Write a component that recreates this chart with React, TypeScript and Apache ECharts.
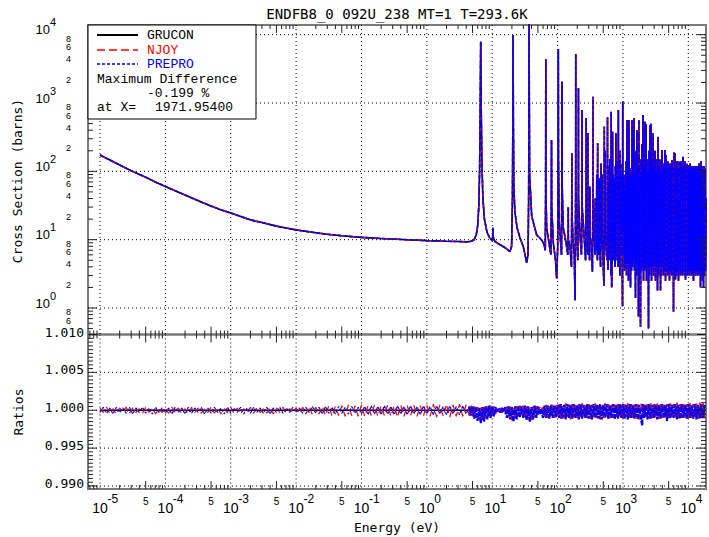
import React, { useEffect, useRef } from "react";
import * as echarts from "echarts";

// ---------- axis extents ----------
const X_MIN = 6.552e-6;
const X_MAX = 18640;
const XS_MIN = 0.4096;
const XS_MAX = 13860;
const R_MIN = 0.9896;
const R_MAX = 1.01;

// ---------- tick values ----------
const xDecades = [1e-5, 1e-4, 1e-3, 1e-2, 1e-1, 1, 10, 100, 1000, 10000];
const xFiveLabels = [5e-5, 5e-4, 5e-3, 5e-2, 5e-1, 5, 50, 500, 5000];
const yDecades = [1, 10, 100, 1000, 10000];
const ratioGridValues = [0.99, 0.995, 1.0, 1.005];
const ratioLabelValues = [0.99, 0.995, 1.0, 1.005, 1.01];
const minorMultipliers = [2, 3, 4, 5, 6, 7, 8, 9];
const labelledMultipliers = [2, 4, 6, 8];

// ---------- texts ----------
const titleText = "ENDFB8_0 092U_238 MT=1 T=293.6K";
const seriesNames = ["GRUCON", "NJOY", "PREPRO"];
const maxDiffLabel = "Maximum Difference";
const maxDiffValue = "-0.199 %";
const maxDiffAtLabel = "at X=";
const maxDiffAtValue = "1971.95400";

// ---------- cross section (eV, barns) ----------
const xsThermal = [
  [1e-5, 173], [2e-5, 124], [3e-5, 102], [5e-5, 82], [7e-5, 70], [1e-4, 60], [2e-4, 45], [3e-4, 38],
  [5e-4, 31], [7e-4, 27.5], [1e-3, 24.5], [2e-3, 19.5], [3e-3, 17.8], [5e-3, 15.8], [7e-3, 14.8],
  [1e-2, 13.9], [2e-2, 12.6], [3e-2, 12], [5e-2, 11.4], [0.1, 10.8], [0.2, 10.4], [0.5, 10], [1, 9.7],
  [2, 9.5], [3, 9.4], [4.2, 9.3],
];
const xsLowResonances = [
  [4.8, 9.5], [5.3, 10], [5.7, 11.8], [6.0, 16], [6.25, 32], [6.42, 110], [6.55, 700], [6.62, 3000],
  [6.67, 7900], [6.72, 3000], [6.8, 700], [6.95, 140], [7.2, 40], [7.6, 20], [8.3, 13], [9.2, 10.5],
  [10.0, 9.8], [10.17, 11], [10.24, 15], [10.31, 11], [11, 9.4], [13, 8.5], [15.5, 7.7], [18.7, 6.7],
  [19.8, 8], [20.4, 40], [20.7, 600], [20.87, 9900], [21.05, 600], [21.4, 60], [22.3, 25], [24, 15],
  [26.6, 10.6], [30, 7.8], [33.7, 4.6], [35.3, 6], [36.1, 40], [36.5, 1500], [36.68, 20000], [36.9, 1500],
  [37.3, 90], [40.2, 22], [47.9, 11.7], [57.1, 9.9], [62, 8.6], [64.8, 7], [65.7, 50], [66.03, 4360],
  [66.4, 50], [68, 15], [74, 9], [79, 6], [80.3, 40], [80.75, 287], [81.3, 30], [86, 9], [93, 5],
  [96.8, 2.7], [100.5, 8], [102, 200], [102.56, 6170], [103.2, 150], [106, 18], [111, 9.5], [115, 6],
  [116.3, 100], [116.9, 2050], [117.6, 60], [122, 15], [135, 9], [143, 6], [145.3, 12], [145.66, 30],
  [146.2, 10],
];
const xsResolved = [
  [155, 8], [163, 4], [164.7, 30], [165.3, 184], [166, 25], [172, 10], [180, 6], [185, 1.3], [189, 50],
  [189.67, 5200], [190.4, 60], [196, 14], [204, 5], [207.8, 60], [208.5, 1640], [209.2, 40], [220, 12],
  [232, 6], [236.8, 40], [237.4, 790], [238.1, 30], [255, 11], [268, 5], [273.1, 40], [273.7, 597],
  [274.4, 30], [284, 9], [289, 6], [290.5, 30], [291, 365], [291.6, 25], [302, 10], [309, 5], [311.3, 60],
  [313, 11], [330, 9], [341, 3.4], [347.2, 50], [347.8, 1240], [348.5, 40], [362, 12], [373, 6],
  [376.9, 40], [380, 12], [392, 7], [397.6, 90], [402, 10], [407, 5], [410.2, 257], [412, 12], [428, 6],
  [434, 80], [438, 10], [455, 4], [463, 130], [466, 12], [474, 7], [478.5, 90], [482, 12], [505, 3],
  [513, 2.1], [518.4, 450], [521, 15], [530, 8], [535.5, 200], [538, 12], [560, 6], [572, 5],
  [580.2, 620], [583, 15], [591, 3.6], [595, 60], [599, 10], [614, 5], [619.9, 120], [622, 14], [626, 9],
  [628.5, 150], [632, 12], [650, 6], [657, 3], [661.2, 745], [664, 20], [672, 2], [685, 5], [693.2, 380],
  [697, 14], [705, 7], [708.4, 90], [712, 10], [719, 5], [721.6, 80], [726, 12], [730.2, 60], [740, 8],
  [758, 4], [765.2, 120], [770, 15], [776, 6], [780.6, 360], [785, 14], [810, 5], [821.6, 140], [830, 10],
  [845, 4], [851, 790], [854, 20], [858, 150], [862, 12], [866.4, 100], [880, 6], [900, 3], [905, 200],
  [910, 14], [920, 6], [925.2, 130], [930, 12], [937, 100], [945, 8], [958.8, 90], [965, 10], [985, 1.05],
  [992.3, 1040], [996, 15], [1015, 6],
];
const xsUnresolvedLike = [
  [1037, 90], [1056, 3.5], [1075, 60], [1094, 4], [1114, 140], [1134, 3], [1154, 565], [1175, 4.5],
  [1195, 150], [1216, 2.5], [1238, 565], [1260, 4], [1282, 110], [1305, 2], [1328, 80], [1352, 3.5],
  [1376, 565], [1400, 4], [1425, 400], [1450, 5], [1476, 600], [1502, 3.5], [1529, 90], [1556, 1.4],
  [1584, 200], [1612, 3], [1641, 400], [1670, 4], [1700, 120], [1730, 0.75], [1761, 565], [1792, 3],
  [1823, 100], [1856, 0.53], [1889, 150], [1923, 3.5], [1956, 250], [1991, 4], [2026, 670], [2062, 2.5],
  [2099, 120], [2137, 3.5], [2174, 530], [2213, 4], [2252, 495], [2292, 2.5], [2333, 150], [2375, 4],
  [2417, 100], [2460, 0.5], [2503, 200], [2548, 3], [2593, 477], [2640, 4], [2686, 500], [2734, 2.5],
  [2782, 150], [2832, 4], [2882, 360], [2934, 3], [2985, 120], [3039, 4], [3092, 200], [3147, 2.5],
  [3203, 100], [3261, 4], [3318, 150], [3378, 1.8], [3437, 320], [3499, 3], [3560, 120], [3624, 4],
  [3687, 150], [3754, 1.8], [3820, 100], [3889, 3], [3957, 205], [4028, 4], [4099, 110], [4173, 3],
  [4246, 130], [4322, 3.5], [4397, 205], [4476, 2.5], [4555, 174], [4637, 3.5], [4718, 130], [4803, 3],
  [4888, 140], [4976, 3.5], [5063, 110], [5154, 2.5], [5244, 130], [5338, 3.5], [5432, 120], [5530, 3],
  [5627, 147], [5728, 3.5], [5829, 110], [5934, 0.88], [6038, 188], [6147, 3], [6254, 184], [6366, 2.6],
  [6479, 120], [6596, 3], [6711, 140], [6832, 3.5], [6952, 110], [7077, 2.5], [7201, 140], [7331, 3.5],
  [7458, 120], [7592, 3], [7726, 140], [7865, 3.5], [8003, 116], [8147, 3], [8290, 164], [8439, 3.5],
  [8587, 120], [8742, 3], [8893, 140], [9053, 2.6], [9212, 110], [9378, 3.5], [9543, 130], [9715, 3],
  [9885, 120], [10063, 3.5], [10239, 110], [10423, 3], [10605, 130], [10796, 3.5], [10986, 120], [11184, 3],
  [11380, 110], [11585, 3.5], [11788, 120], [12000, 2.5], [12211, 110], [12431, 3.5], [12647, 120], [12875, 3],
  [13101, 110], [13337, 3.5], [13571, 120], [13815, 3], [14058, 110], [14311, 3.5], [14562, 130], [14824, 3],
  [15083, 108], [15355, 2], [15624, 140], [15905, 3], [16184, 120], [16475, 2.5], [16765, 110], [17067, 2],
  [17366, 120], [17679, 3], [17988, 110], [18312, 3.5], [18700, 40],
];

// ---------- ratios: [energy eV, NJOY/GRUCON, PREPRO/GRUCON] ----------
const ratioThermal = [
  [1e-5, 1.0003, 0.9997], [1.12e-5, 0.9997, 1.0004], [1.26e-5, 1.0004, 0.9996], [1.41e-5, 0.9996, 1.0003],
  [1.58e-5, 1.0002, 0.9995], [1.78e-5, 0.9995, 1.0004], [2e-5, 1.0003, 0.9997], [2.24e-5, 0.9998, 1.0003],
  [2.51e-5, 1.0004, 0.9996], [2.82e-5, 0.9996, 1.0004], [3.16e-5, 1.0003, 0.9995], [3.55e-5, 0.9997, 1.0003],
  [3.98e-5, 1.0002, 0.9997], [4.47e-5, 0.9996, 1.0004], [5.01e-5, 1.0004, 0.9996], [5.62e-5, 0.9997, 1.0003],
  [6.31e-5, 1.0003, 0.9995], [7.08e-5, 0.9995, 1.0004], [7.94e-5, 1.0002, 0.9997], [8.91e-5, 0.9997, 1.0003],
  [1e-4, 1.0003, 0.9996], [1.12e-4, 0.9996, 1.0003], [1.26e-4, 1.0004, 0.9995], [1.41e-4, 0.9997, 1.0004],
  [1.58e-4, 1.0003, 0.9997], [1.78e-4, 0.9996, 1.0003], [2e-4, 1.0002, 0.9995], [2.24e-4, 0.9995, 1.0004],
  [2.51e-4, 1.0004, 0.9996], [2.82e-4, 0.9997, 1.0003], [3.16e-4, 1.0003, 0.9997], [3.55e-4, 0.9996, 1.0004],
  [3.98e-4, 1.0002, 0.9995], [4.47e-4, 0.9997, 1.0003], [5.01e-4, 1.0004, 0.9996], [5.62e-4, 0.9996, 1.0004],
  [6.31e-4, 1.0003, 0.9997], [7.08e-4, 0.9995, 1.0003], [7.94e-4, 1.0002, 0.9995], [8.91e-4, 0.9997, 1.0004],
  [1e-3, 1.0004, 0.9996], [1.12e-3, 0.9996, 1.0003], [1.26e-3, 1.0003, 0.9997], [1.41e-3, 0.9995, 1.0004],
  [1.58e-3, 1.0002, 0.9995], [1.78e-3, 0.9997, 1.0003], [2e-3, 1.0004, 0.9996], [2.24e-3, 0.9996, 1.0004],
  [2.51e-3, 1.0003, 0.9997], [2.82e-3, 0.9997, 1.0003], [3.16e-3, 1.0002, 0.9996], [3.55e-3, 0.9996, 1.0004],
  [3.98e-3, 1.0004, 0.9995], [4.47e-3, 0.9995, 1.0003], [5.01e-3, 1.0003, 0.9997], [5.62e-3, 0.9997, 1.0004],
  [6.31e-3, 1.0004, 0.9996], [7.08e-3, 0.9996, 1.0003], [7.94e-3, 1.0002, 0.9997], [8.91e-3, 0.9997, 1.0004],
  [1e-2, 1.0003, 0.9997], [1.12e-2, 0.9996, 1.0003], [1.26e-2, 1.0004, 0.9996], [1.41e-2, 0.9995, 1.0004],
  [1.58e-2, 1.0005, 0.9997], [1.78e-2, 0.9994, 1.0005], [2e-2, 1.0004, 0.9996], [2.24e-2, 0.9995, 1.0004],
  [2.51e-2, 1.0005, 0.9995], [2.82e-2, 0.9993, 1.0005], [3.16e-2, 1.0006, 0.9996], [3.55e-2, 0.9992, 1.0004],
  [3.98e-2, 1.0005, 0.9995], [4.47e-2, 0.9993, 1.0005], [5.01e-2, 1.0006, 0.9996], [5.62e-2, 0.9992, 1.0004],
  [6.31e-2, 1.0007, 0.9995], [7.08e-2, 0.9993, 1.0005], [7.94e-2, 1.0006, 0.9996], [8.91e-2, 0.9992, 1.0004],
  [0.1, 1.0007, 0.9995], [0.112, 0.9992, 1.0005], [0.126, 1.0006, 0.9994], [0.141, 0.9993, 1.0006],
  [0.158, 1.0007, 0.9995], [0.178, 0.9992, 1.0005], [0.2, 1.0006, 0.9994], [0.224, 0.9993, 1.0006],
  [0.251, 1.0007, 0.9995], [0.282, 0.9992, 1.0005], [0.316, 1.0006, 0.9994], [0.355, 0.9991, 1.0006],
  [0.398, 1.0007, 0.9995], [0.447, 0.9992, 1.0005], [0.501, 1.0006, 0.9994], [0.562, 0.9993, 1.0006],
  [0.631, 1.0007, 0.9995], [0.708, 0.9992, 1.0005], [0.794, 1.0006, 0.9994], [0.891, 0.9993, 1.0006],
  [1, 1.0007, 0.9995], [1.12, 0.9992, 1.0005], [1.26, 1.0008, 0.9994], [1.41, 0.9991, 1.0006],
  [1.58, 1.0007, 0.9995], [1.78, 0.9992, 1.0005], [2, 1.0008, 0.9994], [2.24, 0.9991, 1.0006],
  [2.51, 1.0007, 0.9995], [2.82, 0.9992, 1.0005], [3.16, 1.0008, 0.9994], [3.55, 0.9992, 1.0006],
  [3.98, 1.0007, 0.9995], [4.47, 0.9993, 1.0005],
];
const ratioResonance = [
  [4.73, 1.0006, 0.9993], [5.01, 0.9992, 1.0005], [5.31, 1.0005, 0.9989], [5.62, 0.999, 1.0004],
  [5.96, 1.0004, 0.9986], [6.31, 0.9988, 1.0003], [6.68, 1.0003, 0.9983], [7.08, 0.9986, 1.0004],
  [7.5, 1.0004, 0.9985], [7.94, 0.999, 1.0005], [8.41, 1.0005, 0.9988], [8.91, 0.9992, 1.0006],
  [9.44, 1.0006, 0.999], [10, 0.9993, 1.0005], [10.6, 1.0005, 0.9992], [11.2, 0.9995, 1.0004],
  [11.9, 1.0002, 0.9998], [12.6, 0.9998, 1.0002], [13.3, 1.0003, 0.9997], [14.1, 0.9997, 1.0003],
  [15, 1.0002, 0.9998], [15.8, 0.9995, 1.0004], [16.8, 1.0006, 0.999], [17.8, 0.9991, 1.0005],
  [18.8, 1.0005, 0.9988], [20, 0.9987, 1.0004], [21.1, 1.0004, 0.9985], [22.4, 0.9989, 1.0005],
  [23.7, 1.0005, 0.9988], [25.1, 0.9992, 1.0006], [26.6, 1.0006, 0.9991], [28.2, 0.9994, 1.0005],
  [29.9, 1.0006, 0.999], [31.6, 0.9991, 1.0006], [33.5, 1.0005, 0.9987], [35.5, 0.9988, 1.0005],
  [37.6, 1.0004, 0.9985], [39.8, 0.9987, 1.0004], [42.2, 1.0005, 0.9988], [44.7, 0.9991, 1.0006],
  [47.3, 1.0006, 0.999], [50.1, 0.9993, 1.0005], [53.1, 1.0004, 0.9994], [56.2, 0.9997, 1.0002],
  [59.6, 1.0006, 0.999], [63.1, 0.9991, 1.0006], [66.8, 1.0007, 0.999], [70.8, 0.999, 1.0006],
  [75, 1.0006, 0.9989], [79.4, 0.9991, 1.0007], [84.1, 1.0007, 0.999], [89.1, 0.999, 1.0006],
  [94.4, 1.0006, 0.9991],
  [100, 0.9991, 1.0007], [106, 1.0008, 0.999], [112, 0.9989, 1.0008], [119, 1.0007, 0.9989],
  [126, 0.9991, 1.0007], [133, 1.0009, 0.9988], [141, 0.999, 1.0008], [150, 1.0007, 0.999],
  [158, 0.9988, 1.0007], [168, 1.0008, 0.9989], [178, 0.9991, 1.0008], [188, 1.0007, 0.999],
  [200, 0.999, 1.0007], [211, 1.0008, 0.9988], [224, 0.9989, 1.0008], [237, 1.0009, 0.9989],
  [251, 0.9991, 1.0007], [266, 1.0007, 0.999], [282, 0.999, 1.0008], [299, 1.0008, 0.9989],
  [316, 0.9989, 1.0007], [335, 1.0007, 0.9988], [355, 0.9991, 1.0008], [376, 1.0009, 0.999],
  [398, 0.999, 1.0007], [422, 1.0008, 0.9989], [447, 0.9988, 1.0008], [473, 1.0007, 0.9988],
  [501, 0.999, 1.0007], [531, 1.0009, 0.999], [562, 0.9991, 1.0008], [596, 1.0008, 0.9989],
  [631, 0.9989, 1.0007], [668, 1.0007, 0.999], [708, 0.999, 1.0008], [750, 1.0009, 0.9988],
  [794, 0.9991, 1.0007], [841, 1.0008, 0.9989], [891, 0.999, 1.0008], [944, 1.0007, 0.999],
  [1000, 0.9989, 1.0008], [1060, 1.0008, 0.9989], [1120, 0.9991, 1.0007], [1190, 1.0009, 0.9988],
  [1260, 0.999, 1.0008], [1330, 1.0008, 0.999], [1410, 0.9989, 1.0007], [1500, 1.0007, 0.9989],
  [1580, 0.9991, 1.0008], [1680, 1.0009, 0.9988], [1780, 0.9988, 1.0007], [1880, 1.0008, 0.9989],
  [1972, 1.0007, 0.998], [2000, 0.999, 1.0008], [2110, 1.0009, 0.999], [2240, 0.9991, 1.0007],
  [2370, 1.0008, 0.9988], [2510, 0.9989, 1.0008], [2660, 1.0009, 0.9989], [2820, 0.999, 1.0007],
  [2990, 1.0008, 0.999], [3160, 0.9991, 1.0008], [3350, 1.0009, 0.9988], [3550, 0.9989, 1.0007],
  [3760, 1.0008, 0.9989], [3980, 0.999, 1.0008], [4220, 1.0009, 0.999], [4470, 0.9991, 1.0007],
  [4730, 1.0008, 0.9986], [5010, 0.9989, 1.0008], [5310, 1.0009, 0.9989], [5620, 0.999, 1.0007],
  [5960, 1.0008, 0.999], [6310, 0.9991, 1.0008], [6680, 1.001, 0.9988], [7080, 0.9989, 1.0007],
  [7500, 1.0008, 0.9989], [7940, 0.999, 1.0008], [8410, 1.0009, 0.999], [8910, 0.9991, 1.0007],
  [9440, 1.0008, 0.9989], [10000, 0.9989, 1.0008], [10600, 1.0009, 0.999], [11200, 0.999, 1.0007],
  [11900, 1.0008, 0.9989], [12600, 0.9991, 1.0008], [13300, 1.0009, 0.9988], [14100, 0.9989, 1.0007],
  [15000, 1.001, 0.9989], [15800, 0.999, 1.0008], [16800, 1.0009, 0.999], [17800, 0.9991, 1.0007],
];
const grCONRatio = [[1e-5, 1.0], [18640, 1.0]];

// ---------- layout ----------
const GRID_LEFT = 88;
const GRID_TOP = 25;
const GRID_W = 618;
const TOP_H = 309.5;
const BOT_H = 154.5;

const LABEL_FONT = '"Liberation Sans", "DejaVu Sans", sans-serif';
const MONO_FONT = '"DejaVu Sans Mono", "Liberation Mono", monospace';
const LEGEND_FONT = '"Liberation Mono", "DejaVu Sans Mono", monospace';
const TICK_COLOR = "#222";

function txt(text: string, x: number, y: number, font: string, align: string, valign: string, fill = "#000", extra: any = {}) {
  return {
    type: "text",
    x,
    y,
    ...extra,
    style: { text, fill, font, align, verticalAlign: valign, textAlign: align, textVerticalAlign: valign },
  };
}

function buildOption(): any {
  const crossSection = [...xsThermal, ...xsLowResonances, ...xsResolved, ...xsUnresolvedLike];
  const lastThermal = ratioThermal[ratioThermal.length - 1];
  const njoyLow = ratioThermal.map((p) => [p[0], p[1]]);
  const preproLow = ratioThermal.map((p) => [p[0], p[2]]);
  const njoyHigh = [lastThermal, ...ratioResonance].map((p) => [p[0], p[1]]);
  const preproHigh = [lastThermal, ...ratioResonance].map((p) => [p[0], p[2]]);

  // tick tables (positions only)
  const xMinorTicks: number[][] = [];
  [1e-6, ...xDecades].forEach((d) =>
    minorMultipliers.forEach((m) => {
      const v = d * m;
      if (v > X_MIN && v < X_MAX) xMinorTicks.push([v, 1, m === 5 ? 1 : 0]);
    })
  );
  const yTopTicks: number[][] = [];
  const yTopMinorLabels: number[][] = [];
  [0.1, ...yDecades].forEach((d) => {
    if (d >= XS_MIN && d <= XS_MAX) yTopTicks.push([1, d, 1]);
    minorMultipliers.forEach((m) => {
      const v = d * m;
      if (v > XS_MIN && v < XS_MAX) {
        yTopTicks.push([1, v, 0]);
        if (labelledMultipliers.indexOf(m) >= 0) yTopMinorLabels.push([1, v, m]);
      }
    });
  });
  const ratioTicks: number[][] = [];
  for (let i = 0; i <= 40; i++) ratioTicks.push([1, 0.99 + i * 0.0005, i % 10 === 0 ? 1 : 0]);

  const dotted = { stroke: "#000", lineWidth: 1, lineDash: [1, 3] };
  const tickStyle = { stroke: TICK_COLOR, lineWidth: 1 };

  const vGrid = (params: any, api: any) => {
    const cs = params.coordSys;
    const x = api.coord([api.value(0), api.value(1)])[0];
    return { type: "line", shape: { x1: x, y1: cs.y, x2: x, y2: cs.y + cs.height }, style: dotted };
  };
  const hGrid = (params: any, api: any) => {
    const cs = params.coordSys;
    const y = api.coord([api.value(0), api.value(1)])[1];
    return { type: "line", shape: { x1: cs.x, y1: y, x2: cs.x + cs.width, y2: y }, style: dotted };
  };
  const xTicks = (params: any, api: any) => {
    const cs = params.coordSys;
    const x = api.coord([api.value(0), api.value(1)])[0];
    const L = api.value(2) ? 8 : 4;
    const b = cs.y + cs.height;
    return {
      type: "group",
      children: [
        { type: "line", shape: { x1: x, y1: cs.y, x2: x, y2: cs.y + L }, style: tickStyle },
        { type: "line", shape: { x1: x, y1: b, x2: x, y2: b - L }, style: tickStyle },
      ],
    };
  };
  const yTicks = (params: any, api: any) => {
    const cs = params.coordSys;
    const y = api.coord([api.value(0), api.value(1)])[1];
    const L = api.value(2) ? 9 : 5;
    const r = cs.x + cs.width;
    return {
      type: "group",
      children: [
        { type: "line", shape: { x1: cs.x, y1: y, x2: cs.x + L, y2: y }, style: tickStyle },
        { type: "line", shape: { x1: r, y1: y, x2: r - L, y2: y }, style: tickStyle },
      ],
    };
  };
  const xDecadeLabel = (params: any, api: any) => {
    const cs = params.coordSys;
    const v = api.value(0);
    const x = api.coord([v, api.value(1)])[0];
    const b = cs.y + cs.height;
    const exp = String(Math.round(Math.log10(v)));
    return {
      type: "group",
      children: [
        txt("10", x, b + 19, `14px ${LABEL_FONT}`, "center", "middle"),
        txt(exp, x + 7.5, b + 9.5, `12px ${LABEL_FONT}`, "left", "middle"),
      ],
    };
  };
  const xFiveLabel = (params: any, api: any) => {
    const cs = params.coordSys;
    const x = api.coord([api.value(0), api.value(1)])[0];
    const b = cs.y + cs.height;
    return txt("5", x, b + 12, `10px ${LABEL_FONT}`, "center", "middle");
  };
  const yDecadeLabel = (params: any, api: any) => {
    const cs = params.coordSys;
    const v = api.value(1);
    const y = api.coord([api.value(0), v])[1];
    const exp = String(Math.round(Math.log10(v)));
    return {
      type: "group",
      children: [
        txt("10", cs.x - 38, y - 5, `13px ${LABEL_FONT}`, "right", "middle"),
        txt(exp, cs.x - 38, y - 12.5, `11px ${LABEL_FONT}`, "left", "middle"),
      ],
    };
  };
  const yMinorLabel = (params: any, api: any) => {
    const cs = params.coordSys;
    const y = api.coord([api.value(0), api.value(1)])[1];
    return txt(String(api.value(2)), cs.x - 19.5, y - 2.5, `9px ${LABEL_FONT}`, "center", "middle");
  };
  const ratioLabel = (params: any, api: any) => {
    const cs = params.coordSys;
    const v = api.value(1);
    const y = api.coord([api.value(0), v])[1];
    return txt(v.toFixed(3), cs.x - 4, y - 2.5, `13px ${MONO_FONT}`, "right", "middle");
  };

  const custom = (gi: number, data: any[], renderItem: any, z: number) => ({
    type: "custom",
    xAxisIndex: gi,
    yAxisIndex: gi,
    data,
    renderItem,
    silent: true,
    z,
  });
  const line = (gi: number, name: string, data: any[], color: string, dash: any, width: number, z: number) => ({
    type: "line",
    name,
    xAxisIndex: gi,
    yAxisIndex: gi,
    data,
    showSymbol: false,
    symbol: "none",
    silent: true,
    clip: true,
    lineStyle: { color, width, type: dash },
    z,
  });

  const hidden = {
    axisLine: { show: false },
    axisTick: { show: false },
    axisLabel: { show: false },
    splitLine: { show: false },
    minorTick: { show: false },
    minorSplitLine: { show: false },
  };

  return {
    animation: false,
    backgroundColor: "#fff",
    grid: [
      { left: GRID_LEFT, top: GRID_TOP, width: GRID_W, height: TOP_H, show: true, borderColor: "#7a7a7a", borderWidth: 2, backgroundColor: "transparent" },
      { left: GRID_LEFT, top: GRID_TOP + TOP_H, width: GRID_W, height: BOT_H, show: true, borderColor: "#7a7a7a", borderWidth: 2, backgroundColor: "transparent" },
    ],
    xAxis: [
      { type: "log", logBase: 10, gridIndex: 0, min: X_MIN, max: X_MAX, ...hidden },
      { type: "log", logBase: 10, gridIndex: 1, min: X_MIN, max: X_MAX, ...hidden },
    ],
    yAxis: [
      { type: "log", logBase: 10, gridIndex: 0, min: XS_MIN, max: XS_MAX, ...hidden },
      { type: "value", gridIndex: 1, min: R_MIN, max: R_MAX, ...hidden },
    ],
    series: [
      custom(0, xDecades.map((v) => [v, 1]), vGrid, 1),
      custom(0, yDecades.map((v) => [1, v]), hGrid, 1),
      custom(1, xDecades.map((v) => [v, 1]), vGrid, 1),
      custom(1, ratioGridValues.map((v) => [1, v]), hGrid, 1),
      line(0, seriesNames[0], crossSection, "#000000", "solid", 1.6, 2),
      line(0, seriesNames[1], crossSection, "#ff0000", [7, 4], 1.6, 3),
      line(0, seriesNames[2], crossSection, "#0000ff", [4, 1.5], 1.6, 4),
      line(1, seriesNames[0], grCONRatio, "#000000", "solid", 1.6, 2),
      line(1, seriesNames[1], njoyLow, "#ff0000", [7, 4], 1.2, 3),
      line(1, seriesNames[2], preproLow, "#0000ff", [3, 1.5], 1.2, 4),
      line(1, seriesNames[1], njoyHigh, "#ff0000", [7, 3], 1.8, 3),
      line(1, seriesNames[2], preproHigh, "#0000ff", [5, 1], 2.2, 4),
      custom(0, xMinorTicks, xTicks, 6),
      custom(1, xMinorTicks, xTicks, 6),
      custom(0, yTopTicks, yTicks, 6),
      custom(1, ratioTicks, yTicks, 6),
      custom(1, xDecades.map((v) => [v, 1]), xDecadeLabel, 6),
      custom(1, xFiveLabels.map((v) => [v, 1]), xFiveLabel, 6),
      custom(0, yDecades.map((v) => [1, v]), yDecadeLabel, 6),
      custom(0, yTopMinorLabels, yMinorLabel, 6),
      custom(1, ratioLabelValues.map((v) => [1, v]), ratioLabel, 6),
    ],
    graphic: [
      txt(titleText, 397, 14, `14px ${MONO_FONT}`, "center", "middle", "#000", { z: 100 }),
      txt("Cross Section (barns)", 17, 181, `13px ${MONO_FONT}`, "center", "middle", "#000", { z: 100, rotation: Math.PI / 2 }),
      txt("Ratios", 18, 412, `13px ${MONO_FONT}`, "center", "middle", "#000", { z: 100, rotation: Math.PI / 2 }),
      txt("Energy (eV)", 397, 527, `13px ${MONO_FONT}`, "center", "middle", "#000", { z: 100 }),
      { type: "rect", z: 100, shape: { x: 88, y: 25, width: 168, height: 94 }, style: { fill: "#fff", stroke: "#000", lineWidth: 1 } },
      { type: "line", z: 101, shape: { x1: 97, y1: 35, x2: 138, y2: 35 }, style: { stroke: "#000", lineWidth: 2 } },
      { type: "line", z: 101, shape: { x1: 97, y1: 50, x2: 138, y2: 50 }, style: { stroke: "#ff0000", lineWidth: 1.4, lineDash: [8, 4] } },
      { type: "line", z: 101, shape: { x1: 97, y1: 64, x2: 138, y2: 64 }, style: { stroke: "#0000ff", lineWidth: 1.4, lineDash: [3, 2] } },
      txt(seriesNames[0], 147, 35, `13px ${LEGEND_FONT}`, "left", "middle", "#000", { z: 101 }),
      txt(seriesNames[1], 147, 50, `13px ${LEGEND_FONT}`, "left", "middle", "#ff0000", { z: 101 }),
      txt(seriesNames[2], 147, 64.5, `13px ${LEGEND_FONT}`, "left", "middle", "#0000ff", { z: 101 }),
      txt(maxDiffLabel, 97, 79, `13px ${LEGEND_FONT}`, "left", "middle", "#000", { z: 101 }),
      txt(maxDiffValue, 147, 93, `13px ${LEGEND_FONT}`, "left", "middle", "#000", { z: 101 }),
      txt(maxDiffAtLabel, 97, 107.5, `13px ${LEGEND_FONT}`, "left", "middle", "#000", { z: 101 }),
      txt(maxDiffAtValue, 155, 107.5, `13px ${LEGEND_FONT}`, "left", "middle", "#000", { z: 101 }),
    ],
  };
}

export default function App() {
  const ref = useRef<HTMLDivElement>(null);
  useEffect(() => {
    if (!ref.current) return;
    const chart = echarts.init(ref.current, undefined, { renderer: "svg" });
    chart.setOption(buildOption());
    return () => chart.dispose();
  }, []);
  return (
    <div
      ref={ref}
      style={{ position: "fixed", left: 0, top: 0, width: 709, height: 537, background: "#fff" }}
    />
  );
}
